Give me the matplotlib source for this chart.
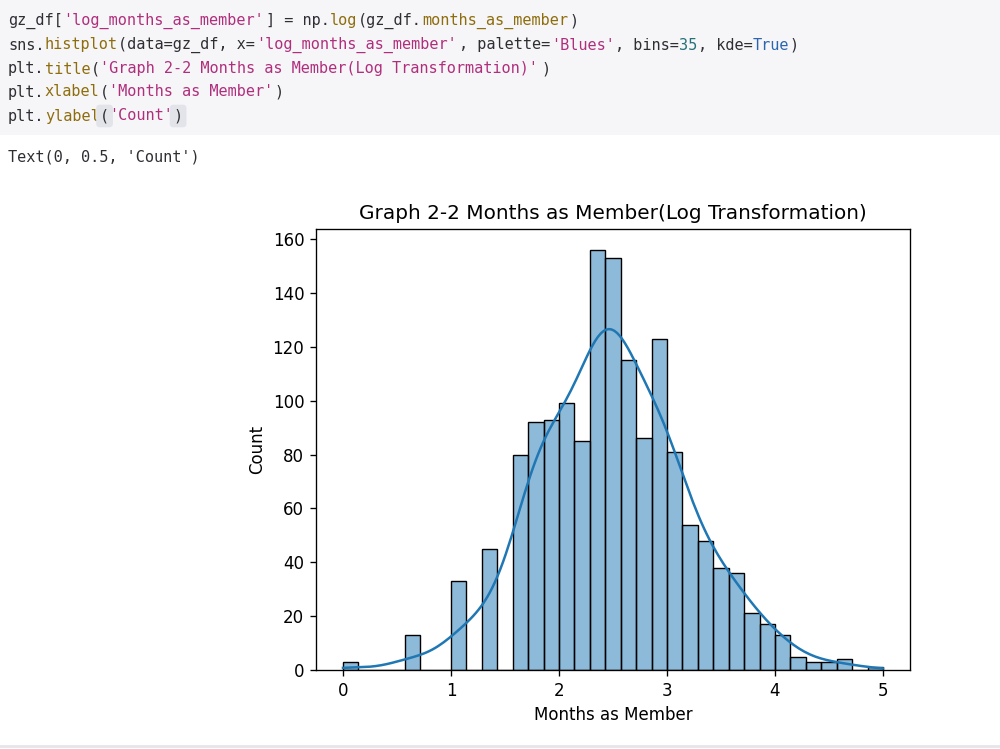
import numpy as np
import pandas as pd
import matplotlib
matplotlib.use("Agg")
import matplotlib.pyplot as plt
from matplotlib.lines import Line2D
from matplotlib.patches import Rectangle
import seaborn as sns

# ----------------------------
# Data
# ----------------------------
x_min = 0.0
x_max = 5.0
n_bins = 35
bin_counts = [3, 0, 0, 0, 13, 0, 0, 33, 0, 45, 0,
              80, 92, 93, 99, 85, 156, 153, 115, 86, 123,
              81, 54, 48, 38, 36, 21, 17, 13, 5, 3, 3, 4, 0, 1]
y_ticks = [0, 20, 40, 60, 80, 100, 120, 140, 160]
x_ticks = [0, 1, 2, 3, 4, 5]

title_text = "Graph 2-2 Months as Member(Log Transformation)"
x_label = "Months as Member"
y_label = "Count"
output_text = "Text(0, 0.5, 'Count')"

# code cell, split into (text, kind) pieces for colouring
code_lines = [
    [("gz_df[", "d"), ("'log_months_as_member'", "s"), ("] = np.", "d"), ("log", "f"),
     ("(gz_df.", "d"), ("months_as_member", "f"), (")", "d")],
    [("sns.", "d"), ("histplot", "f"), ("(data=gz_df, x=", "d"), ("'log_months_as_member'", "s"),
     (", palette=", "d"), ("'Blues'", "s"), (", bins=", "d"), ("35", "n"), (", kde=", "d"),
     ("True", "k"), (")", "d")],
    [("plt.", "d"), ("title", "f"), ("(", "d"), ("'Graph 2-2 Months as Member(Log Transformation)'", "s"), (")", "d")],
    [("plt.", "d"), ("xlabel", "f"), ("(", "d"), ("'Months as Member'", "s"), (")", "d")],
    [("plt.", "d"), ("ylabel", "f"), ("(", "h"), ("'Count'", "s"), (")", "h")],
]

code_colors = {"d": "#2e2e33", "s": "#b02f7c", "f": "#8e6d0c", "n": "#24707a",
               "k": "#2a66b0", "h": "#2e2e33"}

W, H, DPI = 1000, 749, 100
fig = plt.figure(figsize=(W / DPI, H / DPI), dpi=DPI)
fig.patch.set_facecolor("white")

# ----------------------------
# Notebook chrome
# ----------------------------
fig.add_artist(Rectangle((0, 1 - 135 / H), 1, 135 / H, transform=fig.transFigure,
                         facecolor="#f6f6f9", edgecolor="none", zorder=0))
fig.add_artist(Line2D([0, 1], [1 - 746 / H, 1 - 746 / H], transform=fig.transFigure,
                      color="#e6e6ea", linewidth=2))

mono = "DejaVu Sans Mono"
code_size = 11
adv = 0.60205 * code_size * DPI / 72  # px per character
line_y = [21, 45, 69, 92, 116]

for pieces, row in zip(code_lines, line_y):
    col = 0
    for txt, kind in pieces:
        kw = {}
        if kind == "h":
            kw["bbox"] = dict(boxstyle="round,pad=0.25", facecolor="#e3e3ea", edgecolor="none")
        fig.text((8 + col * adv) / W, 1 - row / H, txt,
                 family=mono, fontsize=code_size, color=code_colors[kind],
                 va="center", ha="left", **kw)
        col += len(txt)

fig.text(8 / W, 1 - 157 / H, output_text, family=mono, fontsize=code_size,
         color="#2e2e33", va="center", ha="left")

# ----------------------------
# Histogram
# ----------------------------
s = 1.2
plt.rcParams.update({
    "font.size": 10 * s,
    "axes.linewidth": 0.8 * s,
    "xtick.major.size": 3.5 * s,
    "ytick.major.size": 3.5 * s,
    "xtick.major.width": 0.8 * s,
    "ytick.major.width": 0.8 * s,
    "xtick.major.pad": 3.5 * s,
    "ytick.major.pad": 3.5 * s,
    "axes.titlepad": 6 * s,
    "axes.labelpad": 4 * s,
    "lines.linewidth": 1.5 * s,
})

# one sample per counted member, placed at its bin centre
edges = np.linspace(x_min, x_max, n_bins + 1)
centers = (edges[:-1] + edges[1:]) / 2
gz_df = pd.DataFrame({"log_months_as_member": np.repeat(centers, bin_counts)})

ax = fig.add_axes([316 / W, 1 - 670 / H, 594 / W, 441 / H])
sns.histplot(data=gz_df, x="log_months_as_member", bins=n_bins,
             binrange=(x_min, x_max), kde=True, ax=ax,
             edgecolor="black", linewidth=1.0,
             kde_kws={"cut": 0.5, "clip": (x_min, x_max), "bw_adjust": 1.35},
             line_kws={"linewidth": 1.5 * s})

ax.set_title(title_text, fontsize=12 * s)
ax.set_xlabel(x_label)
ax.set_ylabel(y_label)
ax.set_xticks(x_ticks)
ax.set_yticks(y_ticks)
ax.set_xlim(x_min - 0.05 * (x_max - x_min), x_max + 0.05 * (x_max - x_min))
ax.set_ylim(0, max(bin_counts) * 1.05)

fig.savefig("out.png", dpi=DPI)
